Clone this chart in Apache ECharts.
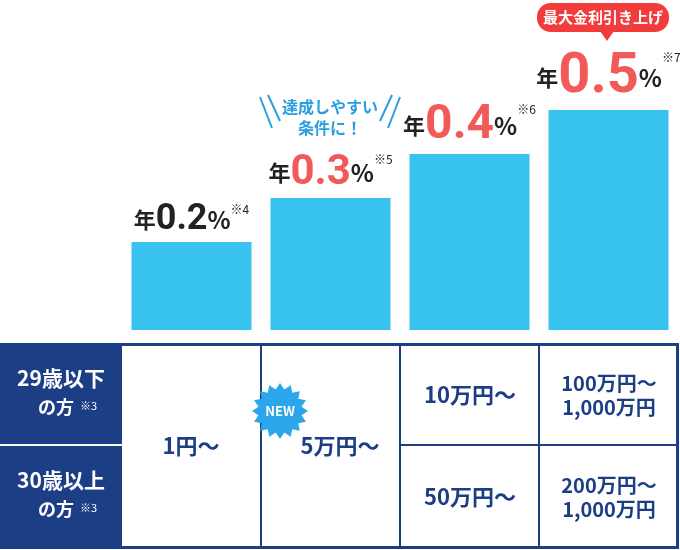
<!DOCTYPE html>
<html><head><meta charset="utf-8">
<script src="https://cdn.jsdelivr.net/npm/echarts@6/dist/echarts.min.js"></script>
<style>html,body{margin:0;padding:0;background:#fff}#c{width:680px;height:550px}</style>
</head><body><div id="c"></div>
<script>
const categories = ['1円～', '5万円～', '10万円～', '100万円～'];
const rates = [0.2, 0.3, 0.4, 0.5];
const rateLabels = ['0.2', '0.3', '0.4', '0.5'];
const notes = ['※4', '※5', '※6', '※7'];
const ageRows = ['29歳以下', '30歳以上'];
const under30 = ['1円～', '5万円～', '10万円～', '100万円～\n1,000万円'];
const over30 = ['1円～', '5万円～', '50万円～', '200万円～\n1,000万円'];

const FONT = '"Noto Sans CJK JP", "Noto Sans", sans-serif';
const NAVY = '#1b3e85', RED = '#f25a5a', BLUE = '#38c3ef';
const numSize = [36, 42, 48, 56];

const chart = echarts.init(document.getElementById('c'));

const g = [];
// table
g.push({type:'rect', shape:{x:1.5,y:344.5,width:676,height:203}, style:{fill:'#fff', stroke:NAVY, lineWidth:3}});
g.push({type:'rect', shape:{x:0,y:343,width:122,height:206}, style:{fill:NAVY}});
g.push({type:'line', shape:{x1:0,y1:445,x2:122,y2:445}, style:{stroke:'#fff', lineWidth:2}});
[261, 400, 539].forEach(x => g.push({type:'line', shape:{x1:x,y1:344,x2:x,y2:548}, style:{stroke:NAVY, lineWidth:2}}));
g.push({type:'line', shape:{x1:400,y1:445,x2:678,y2:445}, style:{stroke:NAVY, lineWidth:2}});
ageRows.forEach((t, i) => {
  const y0 = i ? 470 : 368;
  g.push({type:'text', x:61, y:y0, style:{text:t, fill:'#fff', font:'bold 21px '+FONT, align:'center'}});
  g.push({type:'text', x:38, y:y0+30, style:{text:'の方', fill:'#fff', font:'bold 18px '+FONT}});
  g.push({type:'text', x:80, y:y0+32, style:{text:'※3', fill:'#fff', font:'11px '+FONT}});
});
const cellX = [191, 330, 470, 609];
const cellStyle = (t, x, y) => ({type:'text', x, y, style:{text:t, fill:NAVY, font:(t.includes('\n')?'bold 20px ':'bold 22px ')+FONT, align:'center', verticalAlign:'middle', lineHeight:24}});
g.push(cellStyle(under30[0], cellX[0], 446));
g.push(cellStyle(under30[1], cellX[1]+10, 446));
for (let i = 2; i < 4; i++) {
  g.push(cellStyle(under30[i], cellX[i], 395));
  g.push(cellStyle(over30[i], cellX[i], 497));
}
// NEW starburst
const pts = [];
for (let i = 0; i < 32; i++) {
  const r = i % 2 ? 22 : 28, a = i * Math.PI / 16;
  pts.push([280 + r * Math.cos(a), 411 + r * Math.sin(a)]);
}
g.push({type:'polygon', shape:{points:pts}, style:{fill:'#2ba6ea'}});
g.push({type:'text', x:280, y:411, style:{text:'NEW', fill:'#fff', font:'bold 13px '+FONT, align:'center', verticalAlign:'middle'}});
// callout for 0.3
g.push({type:'text', x:330, y:117, style:{text:'達成しやすい\n条件に！', fill:'#2a9fe0', font:'bold 16px '+FONT, align:'center', verticalAlign:'middle', lineHeight:21}});
[[260,97,272,128],[268,95,280,121],[400,97,388,128],[392,95,380,121]].forEach(l =>
  g.push({type:'line', shape:{x1:l[0],y1:l[1],x2:l[2],y2:l[3]}, style:{stroke:'#2a9fe0', lineWidth:2}}));
// red badge
g.push({type:'rect', shape:{x:537,y:3,width:132,height:29,r:14}, style:{fill:'#f23b3b'}});
g.push({type:'polygon', shape:{points:[[600,31],[614,31],[607,41]]}, style:{fill:'#f23b3b'}});
g.push({type:'text', x:603, y:17.5, style:{text:'最大金利引き上げ', fill:'#fff', font:'bold 15px '+FONT, align:'center', verticalAlign:'middle'}});

chart.setOption({
  animation:false,
  grid:{left:122, right:2, top:0, height:330},
  xAxis:{type:'category', data:categories, show:false},
  yAxis:{type:'value', min:0, max:0.75, show:false},
  series:[{
    type:'bar', barWidth:120, barCategoryGap:'10%',
    data: rates.map((v, i) => ({
      value:v,
      label:{
        show:true, position:'top', distance:4,
        formatter:'{y|年}{n' + i + '|' + rateLabels[i] + '}{p|%}{s|' + notes[i] + '}',
        rich:{
          y:{fontSize:22, fontWeight:'bold', color:'#222', fontFamily:FONT},
          ['n'+i]:{fontSize:numSize[i], fontWeight:'bold', color:i ? RED : '#222', fontFamily:'Roboto, sans-serif'},
          p:{fontSize:24, fontWeight:'bold', color:'#222', fontFamily:FONT},
          s:{fontSize:12, color:'#222', fontFamily:FONT, padding:[0,0,numSize[i]-14,0]}
        }
      }
    })),
    itemStyle:{color:BLUE}
  }],
  graphic: g
});
</script></body></html>
